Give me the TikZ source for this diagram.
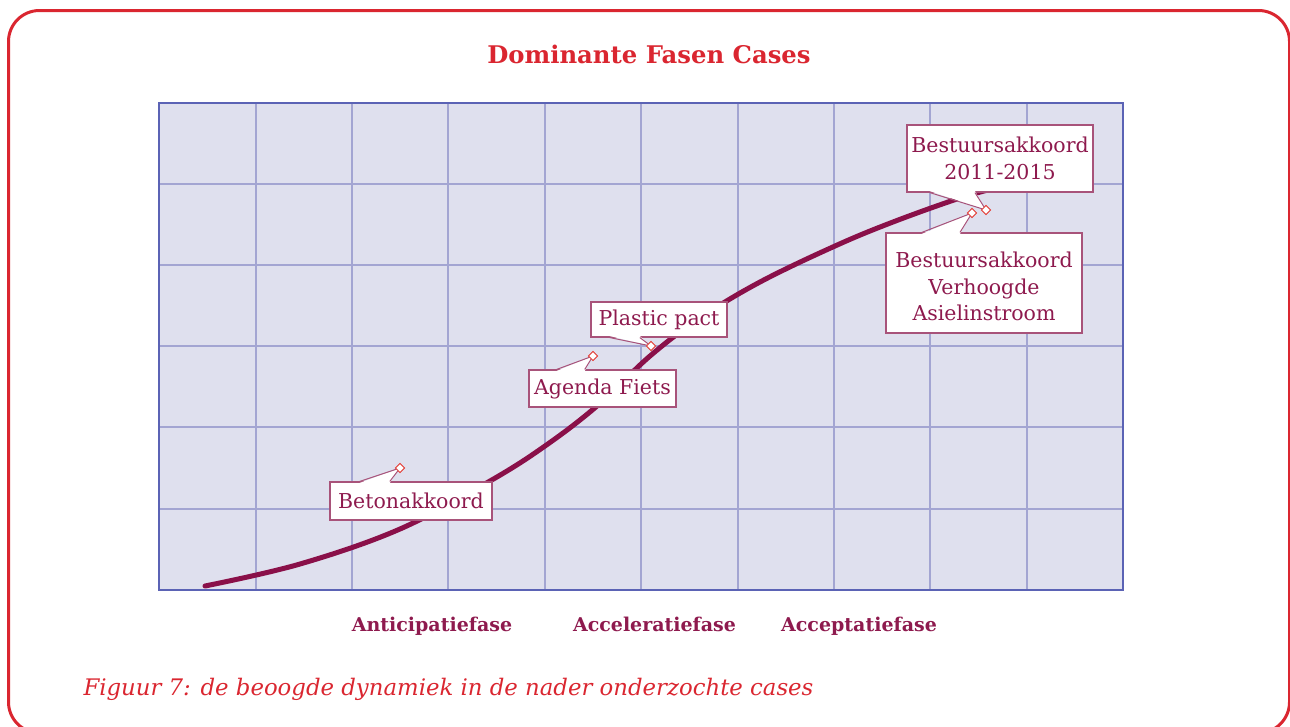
\documentclass[tikz,border=0pt]{standalone}
\usepackage{fontspec}
\setmainfont{DejaVu Serif}
\usetikzlibrary{calc}

\definecolor{framered}{HTML}{DA2630}
\definecolor{maroon}{HTML}{8E1A4E}
\definecolor{curvecol}{HTML}{8A1049}
\definecolor{boxline}{HTML}{A8537A}
\definecolor{markred}{HTML}{E2453F}
\definecolor{gridfill}{HTML}{DFE0EE}
\definecolor{gridline}{HTML}{A3A5D2}
\definecolor{gridframe}{HTML}{5B63B5}

\tikzset{
  callbox/.style={draw=boxline, fill=white, line width=1.1pt, text=maroon,
    font=\fontsize{20.5}{26.5}\selectfont, align=center, inner sep=0pt},
  marker/.style={draw=markred, fill=white, line width=0.9pt, rectangle,
    rotate=45, minimum size=6.4pt, inner sep=0pt},
  pointer/.style={draw=boxline, line width=1pt, line join=miter},
  phase/.style={text=maroon, font=\fontsize{19}{22}\selectfont\bfseries, anchor=base},
  gridrule/.style={gridline, line width=1.3pt},
}

\begin{document}
\begin{tikzpicture}[x=1pt, y=-1pt]
\useasboundingbox (0,0) rectangle (1290,726);

% outer frame
\draw[framered, line width=3pt, rounded corners=31pt] (8.5,10.5) rectangle (1289.5,733);

% title
\node[text=framered, font=\fontsize{24.3}{28}\selectfont\bfseries] (title) at (649,54) {Dominante Fasen Cases};

% chart area with grid
\fill[gridfill] (159,103) rectangle (1123,590);
\foreach \x in {256,352,448,545,641,738,834,930,1027} {
  \draw[gridrule] (\x,103) -- (\x,590);
}
\foreach \y in {184,265,346,427,509} {
  \draw[gridrule] (159,\y) -- (1123,\y);
}
\draw[gridframe, line width=1.4pt] (159,103) rectangle (1123,590);

% adoption curve
\draw[curvecol, line width=5pt, line cap=round] plot[smooth, tension=0.6] coordinates {
  (205,586) (300,564) (400,529) (490,481) (545,446) (597,406)
  (650,356) (700,318) (760,282) (835,246) (893,222) (960,198) (1000,187)};

% event markers
\node[marker] (m1) at (986,210) {};
\node[marker] (m2) at (972,213) {};
\node[marker] (m3) at (651,346) {};
\node[marker] (m4) at (593,356) {};
\node[marker] (m5) at (400,468) {};

% callout boxes
\node[callbox, minimum width=186pt, minimum height=67pt] (b1) at (1000,158.5) {Bestuursakkoord\\2011-2015};
\node[callbox, minimum width=196pt, minimum height=100pt] (b2) at (984,283) {\\[-4pt]Bestuursakkoord\\Verhoogde\\Asielinstroom};
\node[callbox, minimum width=136pt, minimum height=35pt] (b3) at (659,319.5) {Plastic pact};
\node[callbox, minimum width=147pt, minimum height=37pt] (b4) at (602.5,388.5) {Agenda Fiets};
\node[callbox, minimum width=162pt, minimum height=38pt] (b5) at (411,501) {Betonakkoord};

% callout pointers (bottom edge of b1 and b3, top edge of the others)
\coordinate (p1a) at ($(b1.south west)!0.124!(b1.south east)$);
\coordinate (p1b) at ($(b1.south west)!0.366!(b1.south east)$);
\fill[white] ($(p1a)+(0,-1.5)$) -- (m1.center) -- ($(p1b)+(0,-1.5)$) -- cycle;
\draw[pointer] (p1a) -- (m1.center) -- (p1b);

\coordinate (p2a) at ($(b2.north west)!0.184!(b2.north east)$);
\coordinate (p2b) at ($(b2.north west)!0.378!(b2.north east)$);
\fill[white] ($(p2a)+(0,1.5)$) -- (m2.center) -- ($(p2b)+(0,1.5)$) -- cycle;
\draw[pointer] (p2a) -- (m2.center) -- (p2b);

\coordinate (p3a) at ($(b3.south west)!0.14!(b3.south east)$);
\coordinate (p3b) at ($(b3.south west)!0.36!(b3.south east)$);
\fill[white] ($(p3a)+(0,-1.5)$) -- (m3.center) -- ($(p3b)+(0,-1.5)$) -- cycle;
\draw[pointer] (p3a) -- (m3.center) -- (p3b);

\coordinate (p4a) at ($(b4.north west)!0.19!(b4.north east)$);
\coordinate (p4b) at ($(b4.north west)!0.38!(b4.north east)$);
\fill[white] ($(p4a)+(0,1.5)$) -- (m4.center) -- ($(p4b)+(0,1.5)$) -- cycle;
\draw[pointer] (p4a) -- (m4.center) -- (p4b);

\coordinate (p5a) at ($(b5.north west)!0.185!(b5.north east)$);
\coordinate (p5b) at ($(b5.north west)!0.37!(b5.north east)$);
\fill[white] ($(p5a)+(0,1.5)$) -- (m5.center) -- ($(p5b)+(0,1.5)$) -- cycle;
\draw[pointer] (p5a) -- (m5.center) -- (p5b);

% redraw markers on top of the pointers
\foreach \m in {m1,m2,m3,m4,m5} {
  \node[marker] at (\m.center) {};
}

% phase labels
\node[phase] (ph1) at (432,631) {Anticipatiefase};
\node[phase] (ph2) at (654.5,631) {Acceleratiefase};
\node[phase] (ph3) at (859,631) {Acceptatiefase};

% caption
\node[anchor=west, text=framered, font=\fontsize{22.8}{26}\selectfont\itshape] (cap) at (80,689)
  {Figuur 7: de beoogde dynamiek in de nader onderzochte cases};
\end{tikzpicture}
\end{document}
